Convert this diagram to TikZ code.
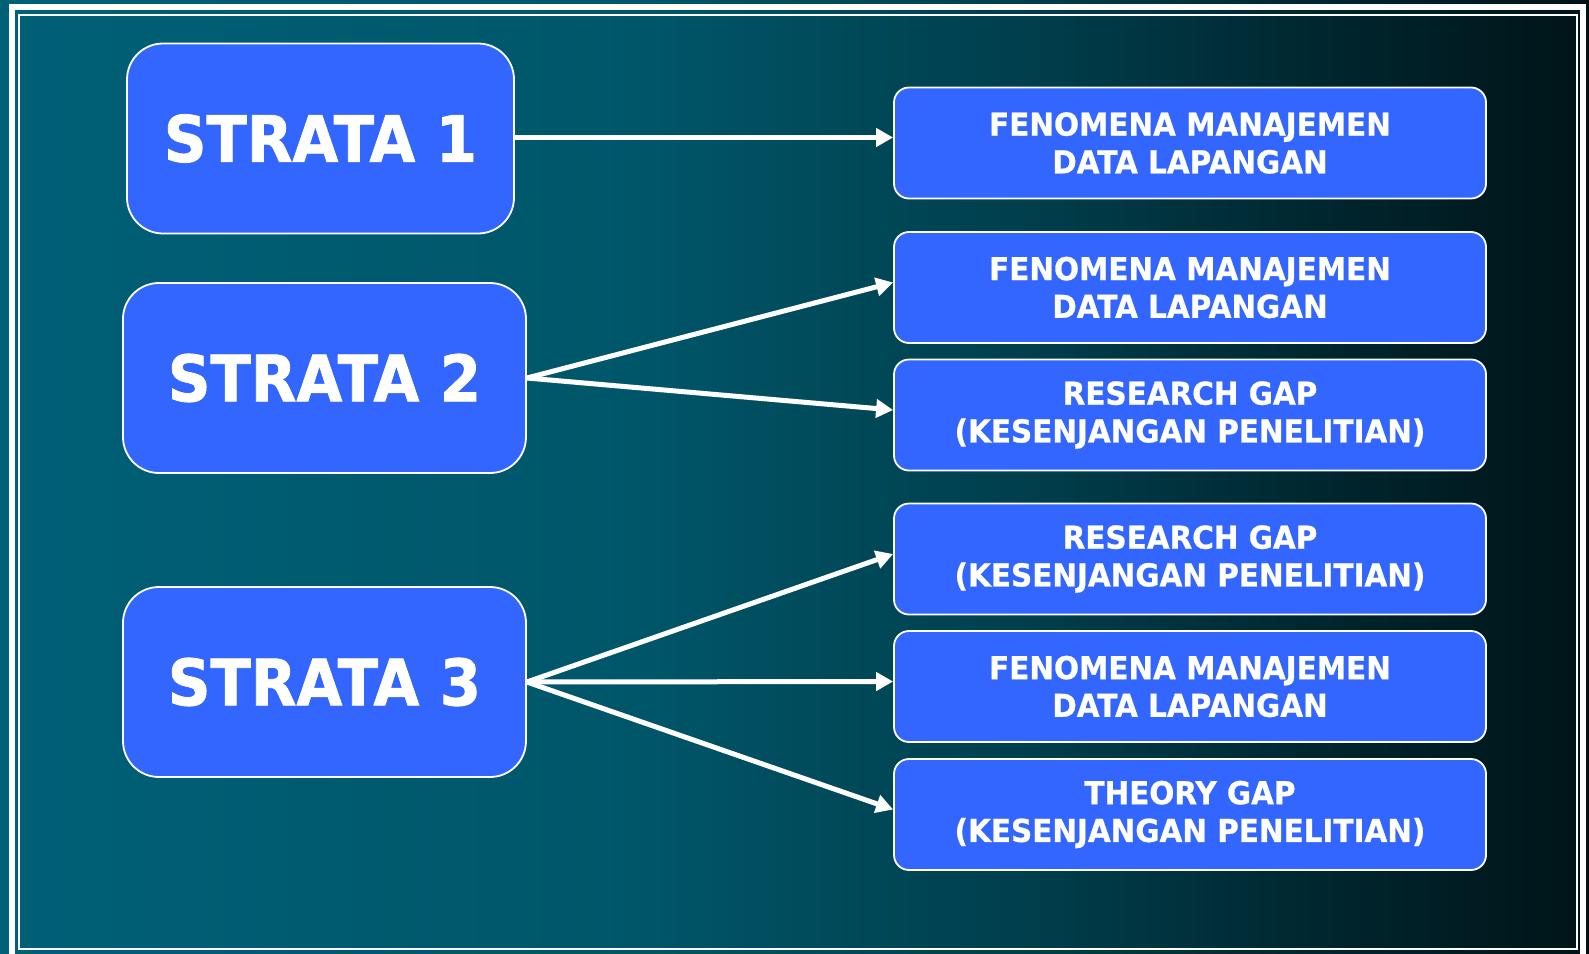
\documentclass[tikz,border=0pt]{standalone}
\usepackage{fontspec}
\setmainfont{DejaVu Sans}
\newfontfamily\bigfont{DejaVu Sans}[FakeStretch=0.925,FakeBold=1.2]
\newfontfamily\smallfont{DejaVu Sans}[FakeStretch=0.935,FakeBold=0.8]
\usetikzlibrary{arrows.meta}
\definecolor{boxblue}{RGB}{51,102,255}
\definecolor{bgA}{RGB}{0,96,119}
\definecolor{bgB}{RGB}{0,86,105}
\definecolor{bgC}{RGB}{0,62,76}
\definecolor{bgD}{RGB}{0,36,44}
\definecolor{bgE}{RGB}{0,20,24}
\pgfdeclarehorizontalshading{bgshade}{100bp}{color(0bp)=(bgA); color(25bp)=(bgA); color(45bp)=(bgB); color(57.5bp)=(bgC); color(67.5bp)=(bgD); color(75bp)=(bgE); color(100bp)=(bgE)}
\tikzset{
  stratabox/.style={draw=white, line width=1.8pt, fill=boxblue, rounded corners=36pt,
    minimum width=#1, minimum height=190pt, inner sep=0pt, text=white,
    font=\bigfont\bfseries\fontsize{64}{77}\selectfont},
  itembox/.style={draw=white, line width=1.8pt, fill=boxblue, rounded corners=15pt,
    minimum width=592pt, minimum height=111pt, inner sep=0pt, text=white, align=center,
    font=\smallfont\bfseries\fontsize{31.5}{37.7}\selectfont},
  arr/.style={white, line width=5pt, -{Triangle[length=17pt,width=18pt]}}
}
\begin{document}
\begin{tikzpicture}[x=1pt,y=-1pt]
\useasboundingbox (0,0) rectangle (1589,953);
\shade[shading=bgshade] (0,0) rectangle (1589,953);
\draw[white, line width=6pt] (11.7,970) -- (11.7,7.2) -- (1582.5,7.2) -- (1582.5,970);
\draw[white, line width=2pt] (19,14.8) rectangle (1577,949);

\node[stratabox=387pt] (S1) at (320.5,138.5) {STRATA 1};
\node[stratabox=403pt] (S2) at (324.5,378) {STRATA 2};
\node[stratabox=403pt] (S3) at (324.5,682) {STRATA 3};

\node[itembox] (R1) at (1190,143) {FENOMENA MANAJEMEN\\DATA LAPANGAN};
\node[itembox] (R2) at (1190,287.5) {FENOMENA MANAJEMEN\\DATA LAPANGAN};
\node[itembox] (R3) at (1190,415) {RESEARCH GAP\\(KESENJANGAN PENELITIAN)};
\node[itembox] (R4) at (1190,559) {RESEARCH GAP\\(KESENJANGAN PENELITIAN)};
\node[itembox] (R5) at (1190,686.5) {FENOMENA MANAJEMEN\\DATA LAPANGAN};
\node[itembox] (R6) at (1190,814.5) {THEORY GAP\\(KESENJANGAN PENELITIAN)};

\draw[arr] ([yshift=1pt]S1.east) -- ([yshift=1pt]S1.east -| R1.west);
\draw[arr] (S2.east) -- ([yshift=5pt]R2.west);
\draw[arr] (S2.east) -- ([yshift=5pt]R3.west);
\draw[arr] (S3.east) -- ([yshift=5pt]R4.west);
\draw[arr] (S3.east) -- ([yshift=5pt]R5.west);
\draw[arr] (S3.east) -- ([yshift=5pt]R6.west);
\end{tikzpicture}
\end{document}
